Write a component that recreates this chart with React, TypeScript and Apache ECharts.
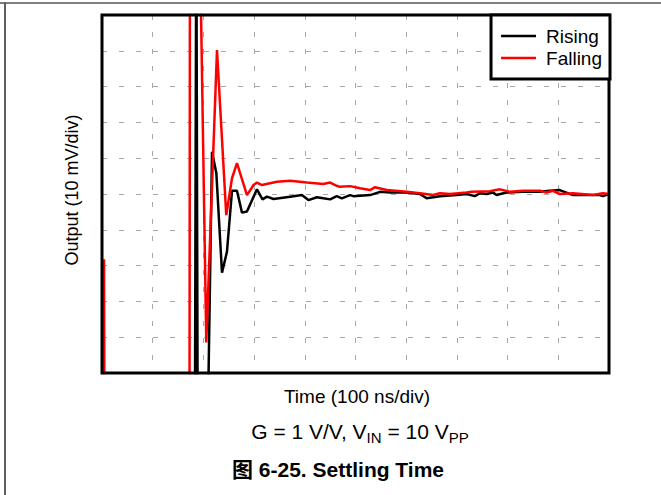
import React, { useEffect, useRef } from "react";
import * as echarts from "echarts";

// Time in ns (100 ns/div), output in mV (10 mV/div), 0 mV = settled level
const risingTime = [0, 183, 186, 189, 210, 217, 225.5, 236.7, 246.5, 256.4, 266.2, 276.1, 285.9, 305.6, 316.6, 325.3, 338.3, 371.2, 394.2, 407.2, 423.7, 436.7, 449.9, 463.1, 473, 489.3, 495.8, 528.7, 548.4, 568.1, 601, 627.1, 640.3, 653.3, 666.5, 699.4, 719.1, 735.4, 745.3, 758.5, 771.5, 778.1, 797.8, 830.5, 863.4, 883.1, 902.8, 916, 929, 981.6, 988, 1000];
const risingValue = [-80, -80, 80, -80, -52, 11.8, 5.9, -22.0, -16.1, 0.9, 0.9, -5.2, -4.9, 1.3, -1.5, -0.75, -1.4, -0.75, -0.3, -1.7, -0.9, -1.2, -1.5, -0.6, -1.2, -0.3, -0.6, -0.3, 0.6, 0.4, 0.4, 0, -1.2, -0.9, -0.6, -0.3, 0, -0.6, 0.2, 0, 0.4, -0.3, 0.4, 0.6, 0.6, 0.9, 1.1, 0.4, -0.3, -0.3, -0.6, 0];

const fallingTime = [4, 5, 172.5, 173.5, 192, 205.7, 226.8, 245.1, 256.4, 266.2, 285.9, 298.9, 305.6, 315.4, 345, 371.2, 404.1, 436.1, 449.9, 463.1, 469.4, 489.3, 509, 528.7, 538.5, 561.6, 601, 627.1, 653.3, 666.5, 686.2, 719.1, 728.9, 765, 784.7, 804.4, 830.5, 863.4, 876.6, 889.6, 902.8, 929, 968.4, 988.1, 1000];
const fallingValue = [-18.2, -80, -80, 80, 80, -41.5, 40.2, -5.9, 4.4, 8.6, -0.3, 2.5, 3.2, 2.5, 3.4, 3.7, 3.2, 2.8, 3.2, 2.3, 2.0, 2.2, 1.6, 1.1, 1.9, 1.1, 0.6, 0.2, -0.3, 0.2, 0, 0.4, 0.6, 0.8, 1.3, 0.6, 0.9, 0.9, 0.4, 0.9, 0, 0.2, -0.3, 0.2, 0];

const seriesNames = ["Rising", "Falling"];
const xLabel = "Time (100 ns/div)";
const yLabel = "Output (10 mV/div)";
const captionTitle = "图 6-25. Settling Time";

const FONT = "'Liberation Sans', Arial, 'Noto Sans CJK SC', sans-serif";

const GRID = { left: 102, right: 52, top: 15, bottom: 122 };

export default function App() {
  const ref = useRef<HTMLDivElement>(null);
  useEffect(() => {
    if (!ref.current) return;
    const chart = echarts.init(ref.current, null, { renderer: "svg" });
    const zip = (xs: number[], ys: number[]) => xs.map((x, i) => [x, ys[i]]);
    const gridLine = { show: true, lineStyle: { color: "#a8a8a8", width: 1, type: [5, 12] as any } };
    chart.setOption({
      animation: false,
      backgroundColor: "#ffffff",
      grid: { ...GRID, show: false },
      xAxis: {
        type: "value",
        min: 0,
        max: 1000,
        interval: 100,
        axisLine: { show: false },
        axisTick: { show: false },
        axisLabel: { show: false },
        splitLine: gridLine,
      },
      yAxis: {
        type: "value",
        min: -50,
        max: 50,
        interval: 10,
        axisLine: { show: false },
        axisTick: { show: false },
        axisLabel: { show: false },
        splitLine: gridLine,
      },
      legend: {
        data: seriesNames,
        orient: "vertical",
        right: 51,
        top: 15,
        padding: [10, 8, 10, 10],
        itemGap: 0,
        itemWidth: 35,
        itemHeight: 2.5,
        icon: "rect",
        backgroundColor: "#fff",
        borderColor: "#000",
        borderWidth: 3,
        z: 20,
        textStyle: { fontSize: 19, lineHeight: 22, fontFamily: FONT, color: "#000", padding: [0, 0, 0, 5] },
      },
      series: [
        {
          name: seriesNames[0],
          type: "line",
          data: zip(risingTime, risingValue),
          symbol: "none",
          lineStyle: { color: "#000", width: 2.5 },
          itemStyle: { color: "#000" },
          clip: true,
          z: 3,
        },
        {
          name: seriesNames[1],
          type: "line",
          data: zip(fallingTime, fallingValue),
          symbol: "none",
          lineStyle: { color: "#ff0000", width: 2.5 },
          itemStyle: { color: "#ff0000" },
          clip: true,
          z: 4,
        },
      ],
      graphic: [
        { type: "rect", shape: { x: 0, y: 2, width: 661, height: 2 }, style: { fill: "#808080" }, silent: true },
        { type: "rect", shape: { x: 4, y: 2, width: 2, height: 493 }, style: { fill: "#606060" }, silent: true },
        {
          type: "rect",
          z: 10,
          silent: true,
          shape: { x: GRID.left, y: GRID.top, width: 661 - GRID.left - GRID.right, height: 495 - GRID.top - GRID.bottom },
          style: { fill: "none", stroke: "#000", lineWidth: 3 },
        },
        {
          type: "text",
          x: 72,
          y: 190,
          rotation: Math.PI / 2,
          style: { text: yLabel, font: `18px ${FONT}`, fill: "#000", align: "center", verticalAlign: "middle" },
        },
        {
          type: "text",
          x: 357,
          y: 396,
          style: { text: xLabel, font: `19px ${FONT}`, fill: "#000", align: "center", verticalAlign: "middle" },
        },
        {
          type: "text",
          x: 360,
          y: 431,
          style: {
            text: "G = 1 V/V, V{sub|IN} = 10 V{sub|PP}",
            fontSize: 21,
            fontFamily: FONT,
            fill: "#000",
            align: "center",
            verticalAlign: "middle",
            lineHeight: 28,
            rich: {
              sub: { fontSize: 15, fontFamily: FONT, fill: "#000", lineHeight: 15, verticalAlign: "bottom" },
            },
          },
        },
        {
          type: "text",
          x: 338,
          y: 469,
          style: { text: captionTitle, font: `bold 21px ${FONT}`, fill: "#000", align: "center", verticalAlign: "middle" },
        },
      ],
    });
    return () => chart.dispose();
  }, []);
  return <div ref={ref} style={{ position: "absolute", left: 0, top: 0, width: 661, height: 495 }} />;
}
